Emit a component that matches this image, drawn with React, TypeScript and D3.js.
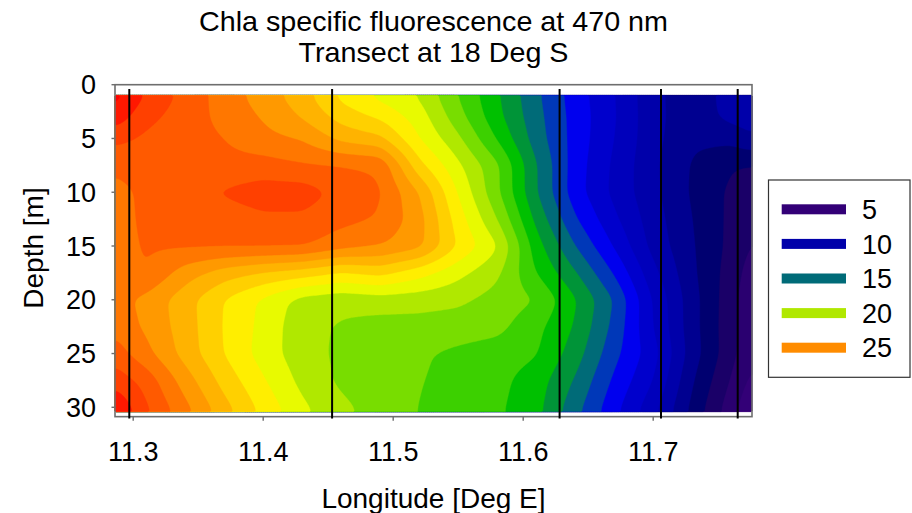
import React, { useMemo } from "react";
import * as d3 from "d3";

// Grid of gridded Chla-specific fluorescence (470 nm) along the 18°S transect.
const longitudes = [11.286, 11.31, 11.34, 11.37, 11.4, 11.43, 11.46, 11.49, 11.52, 11.55, 11.58, 11.61, 11.64, 11.67, 11.7, 11.73, 11.76, 11.776];
const depths = [1, 3, 5, 7.5, 10, 12.5, 15, 17.5, 20, 22.5, 25, 27.5, 30.4];

const fluorescence: number[][] = [
  [30.4, 28.9, 27.66, 26.53, 25.51, 24.42, 22.7, 21.65, 20.88, 18.95, 17.13, 15.2, 13.51, 12.05, 10.26, 9.4, 10.4, 10.8],
  [29.6, 28.3, 27.5, 26.7, 25.9, 24.9, 23.6, 22.8, 21.5, 19.4, 17.3, 15.35, 13.6, 12.1, 10.3, 9.4, 10.3, 10.6],
  [28.3, 27.8, 27.4, 27.0, 26.3, 25.9, 24.7, 24.2, 22.0, 20.2, 17.9, 15.5, 13.6, 12.0, 10.3, 9.2, 9.3, 9.8],
  [27.2, 27.4, 27.4, 27.3, 27.4, 27.1, 27.0, 26.8, 23.3, 21.2, 19.2, 16.05, 13.5, 11.8, 10.2, 8.9, 8.1, 8.0],
  [26.7, 27.2, 27.8, 28.1, 28.5, 28.5, 27.7, 27.1, 25.0, 21.9, 19.2, 16.06, 13.44, 11.73, 10.26, 8.86, 7.8, 7.1],
  [26.6, 27.2, 27.4, 27.5, 27.8, 27.8, 27.3, 26.9, 25.4, 22.5, 20.0, 16.7, 14.1, 12.2, 10.45, 9.0, 7.75, 7.0],
  [26.6, 27.1, 27.15, 27.15, 27.15, 27.1, 26.4, 26.0, 25.3, 22.9, 21.1, 17.45, 15.0, 12.9, 10.65, 9.1, 7.7, 6.9],
  [26.5, 27.0, 25.5, 24.5, 23.9, 23.5, 22.9, 23.3, 22.4, 21.3, 20.2, 18.0, 16.1, 13.9, 11.3, 9.2, 7.5, 6.5],
  [26.4, 25.7, 24.4, 22.96, 21.8, 20.6, 20.3, 20.5, 20.4, 20.2, 19.6, 19.0, 17.1, 14.95, 11.9, 9.4, 7.35, 6.2],
  [26.7, 25.8, 24.5, 22.9, 21.7, 20.3, 19.9, 19.6, 19.6, 19.5, 19.3, 18.3, 16.9, 14.7, 12.0, 9.4, 7.3, 6.2],
  [27.5, 26.3, 24.59, 22.96, 21.55, 20.39, 19.8, 19.46, 19.13, 18.79, 18.5, 18.09, 16.48, 14.31, 12.41, 9.5, 7.3, 6.17],
  [28.6, 27.6, 25.5, 23.6, 22.1, 20.7, 19.8, 19.5, 19.05, 18.7, 18.3, 17.5, 15.9, 13.8, 12.0, 9.1, 6.9, 5.7],
  [30.2, 28.2, 26.38, 24.45, 22.74, 21.27, 20.28, 19.56, 18.96, 18.56, 18.16, 17.32, 15.29, 13.26, 11.25, 8.69, 6.35, 5.0],
];

// CTD station positions marked as vertical lines.
const stationLongitudes = [11.297, 11.453, 11.628, 11.706, 11.765];

const xTicks = [11.3, 11.4, 11.5, 11.6, 11.7];
const yTicks = [0, 5, 10, 15, 20, 25, 30];

const legendLevels = [5, 10, 15, 20, 25];
const legendColors = ["#330077", "#0000AA", "#006B78", "#B0E800", "#FF8C00"];

// Filled contour bands: one colour per unit interval starting at firstLevel.
const firstLevel = 3;
const bandColors = [
  "#500088", "#420080", "#330077", "#2A0070", "#1A0068", "#000070", "#000090",
  "#0000AA", "#0000BB", "#0000CC", "#0000EE", "#0038B8", "#006B78", "#009438",
  "#00C000", "#3CD000", "#78DD00", "#B0E800", "#E8FA00", "#FFEE00", "#FFD000",
  "#FFB300", "#FF9900", "#FF7700", "#FF5A00", "#FF4000", "#FF1800", "#FF0000",
];

const FONT = "Arial, 'Liberation Sans', sans-serif";

const x = d3.scaleLinear().domain([11.286, 11.776]).range([115, 752]);
const y = d3.scaleLinear().domain([0, 30]).range([84.7, 407.3]);
const frameBottom = y(30.87);

function locate(arr: number[], v: number) {
  let i = d3.bisectRight(arr, v) - 1;
  i = Math.max(0, Math.min(arr.length - 2, i));
  const t = Math.max(0, Math.min(1, (v - arr[i]) / (arr[i + 1] - arr[i])));
  return [i, t] as const;
}

function sample(lon: number, dep: number) {
  const [i, tx] = locate(longitudes, lon);
  const [j, ty] = locate(depths, dep);
  const a = fluorescence[j][i];
  const b = fluorescence[j][i + 1];
  const c = fluorescence[j + 1][i];
  const d = fluorescence[j + 1][i + 1];
  return (a * (1 - tx) + b * tx) * (1 - ty) + (c * (1 - tx) + d * tx) * ty;
}

export default function App() {
  const bands = useMemo(() => {
    const x0 = x(longitudes[0]);
    const x1 = x(longitudes[longitudes.length - 1]);
    const y0 = y(depths[0]);
    const y1 = y(depths[depths.length - 1]);
    const nx = Math.round((x1 - x0) / 2);
    const ny = Math.round((y1 - y0) / 2);
    const values = new Float64Array(nx * ny);
    for (let j = 0; j < ny; j++) {
      const dep = y.invert(y0 + ((j + 0.5) * (y1 - y0)) / ny);
      for (let i = 0; i < nx; i++) {
        const lon = x.invert(x0 + ((i + 0.5) * (x1 - x0)) / nx);
        values[j * nx + i] = sample(lon, dep);
      }
    }
    d3.blur2({ data: values, width: nx, height: ny }, 2);
    const thresholds = bandColors.map((_, k) => firstLevel + k);
    const contours = d3.contours().size([nx, ny]).thresholds(thresholds)(Array.from(values));
    const sx = (x1 - x0) / nx;
    const sy = (y1 - y0) / ny;
    const proj = d3.geoTransform({
      point(px: number, py: number) {
        (this as any).stream.point(x0 + px * sx, y0 + py * sy);
      },
    });
    const path = d3.geoPath(proj);
    return contours.map((c, k) => ({ d: path(c as any) || "", color: bandColors[k], key: k }));
  }, []);

  const legendTop = 209.3;
  const legendStep = 34.6;

  return (
    <svg width={912} height={513} style={{ display: "block", position: "absolute", left: 0, top: 0 }} fontFamily={FONT}>
      <rect width={912} height={513} fill="#ffffff" />
      <text x={433.5} y={31} fontSize={28} textAnchor="middle" textLength={469} lengthAdjust="spacingAndGlyphs">
        Chla specific fluorescence at 470 nm
      </text>
      <text x={433.5} y={62} fontSize={28} textAnchor="middle" textLength={270} lengthAdjust="spacingAndGlyphs">
        Transect at 18 Deg S
      </text>

      <g>
        {bands.map((b) => (
          <path key={b.key} d={b.d} fill={b.color} stroke={b.color} strokeWidth={0.4} />
        ))}
      </g>

      {/* frame */}
      <rect x={115} y={84.7} width={752 - 115} height={frameBottom - 84.7} fill="none" stroke="#6e6e6e" strokeWidth={1.6} />

      {/* station lines */}
      {stationLongitudes.map((s) => (
        <line key={s} x1={x(s)} x2={x(s)} y1={y(0.4)} y2={y(31.05)} stroke="#000" strokeWidth={2} />
      ))}

      {/* x axis */}
      {xTicks.map((t) => (
        <g key={t}>
          <line x1={x(t)} x2={x(t)} y1={frameBottom} y2={frameBottom + 4} stroke="#6e6e6e" strokeWidth={1.4} />
          <text x={x(t)} y={461} fontSize={27} textAnchor="middle">
            {t.toFixed(1)}
          </text>
        </g>
      ))}
      <text x={433.5} y={508} fontSize={28} textAnchor="middle">
        Longitude [Deg E]
      </text>

      {/* y axis */}
      {yTicks.map((t) => (
        <g key={t}>
          <line x1={111.5} x2={115} y1={y(t)} y2={y(t)} stroke="#6e6e6e" strokeWidth={1.4} />
          <text x={96} y={y(t) + 9.7} fontSize={27} textAnchor="end">
            {t}
          </text>
        </g>
      ))}
      <text transform="translate(43,248) rotate(-90)" fontSize={28} textAnchor="middle">
        Depth [m]
      </text>

      {/* legend */}
      <rect x={768.5} y={180} width={141.5} height={197.3} fill="#fff" stroke="#333" strokeWidth={1.2} />
      {legendLevels.map((lv, k) => (
        <g key={lv}>
          <rect x={781.7} y={legendTop + k * legendStep - 5} width={64.3} height={10} fill={legendColors[k]} />
          <text x={862} y={legendTop + k * legendStep + 9.7} fontSize={27}>
            {lv}
          </text>
        </g>
      ))}
    </svg>
  );
}
